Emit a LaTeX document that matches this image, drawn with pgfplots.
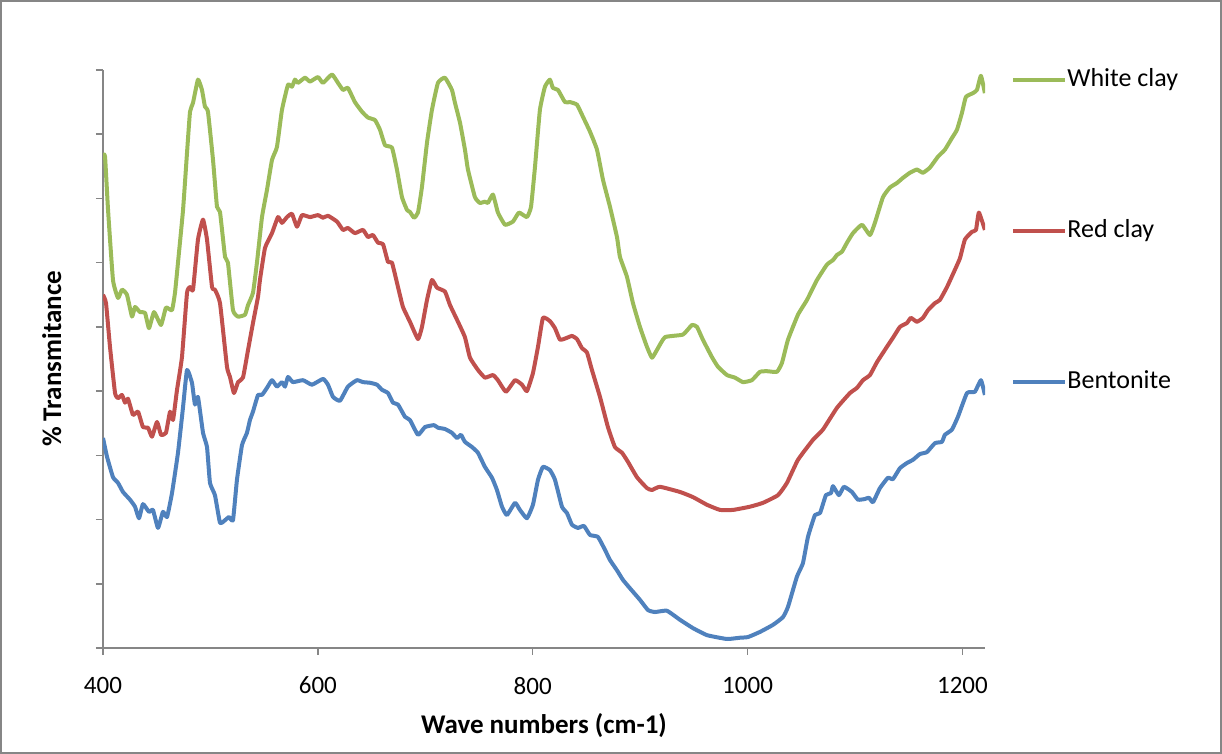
\documentclass[border=0pt]{standalone}
\usepackage{fontspec}
\setmainfont{Carlito}
\usepackage{pgfplots}
\pgfplotsset{compat=1.18}
\definecolor{cgreen}{HTML}{9BBB59}
\definecolor{cred}{HTML}{C0504D}
\definecolor{cblue}{HTML}{4F81BD}
\definecolor{axgray}{HTML}{868686}

\begin{document}
\begin{tikzpicture}
\useasboundingbox (0,0) rectangle (611pt,377pt);
\draw[axgray, line width=1pt] (0.5pt,0.5pt) rectangle (610.5pt,376.5pt);
\begin{axis}[
    at={(51.5pt,53pt)}, anchor=south west,
    scale only axis, width=441pt, height=289pt,
    xmin=400, xmax=1221, ymin=0, ymax=90,
    axis lines*=left,
    axis line style={axgray, line width=0.75pt},
    xtick={400,600,800,1000,1200},
    ytick={0,10,...,90}, yticklabels={},
    tick align=outside, major tick length=3.5pt,
    tick style={axgray, line width=0.75pt},
    ticklabel style={font=\fontsize{12.5}{14}\selectfont},
    xticklabel style={yshift=-7.5pt},
    /pgf/number format/assume math mode=true,
    /pgf/number format/1000 sep={},
    xlabel={Wave numbers (cm-1)},
    ylabel={\% Transmitance},
    label style={font=\bfseries\fontsize{13.5}{16}\selectfont},
    xlabel style={at={(axis description cs:0.5,-0.134)}, anchor=center},
    ylabel style={at={(axis description cs:-0.058,0.5)}, anchor=center},
    legend style={draw=none, fill=none, at={(1.0295,1.004)}, anchor=north west,
        inner sep=0pt, row sep=63.5pt, font=\fontsize{13}{15}\selectfont,
        nodes={inner sep=0pt, text height=9pt, text depth=3pt},
        /tikz/every even column/.append style={column sep=2.5pt}},
    legend image code/.code={\draw[#1] (0pt,0pt) -- (26pt,0pt);},
    legend cell align=left,
    every axis plot/.append style={line width=2pt, line join=round, smooth, tension=0.25},
]
% White clay
\addplot[cgreen] coordinates {
(400,76.8) (401.9,76.5) (404.7,68.2) (409.3,57.3) (414.0,54.5) (417.7,55.8)
(422.3,55.0) (427.0,51.6) (429.8,53.1) (434.4,52.3) (439.1,52.2) (442.8,49.8)
(447.5,52.3) (454.0,50.3) (458.6,53.0) (464.2,52.6) (467.0,55.3) (469.8,60.0)
(474.5,68.2) (478.2,77.1) (481.0,83.5) (483.8,84.9) (488.4,88.5) (492.1,86.9)
(494.9,84.3) (497.7,83.5) (502.4,76.0) (506.1,68.7) (508.9,67.9) (513.6,60.9)
(516.3,60.0) (521.0,52.6) (525.7,51.6) (532.2,51.9) (535.0,53.4) (539.6,55.3)
(543.3,60.0) (548.0,67.1) (552.6,71.3) (557.3,76.0) (561.9,78.0) (566.6,83.8)
(572.2,87.7) (575.9,87.4) (578.7,88.5) (581.5,88.0) (588.0,88.8) (592.7,88.2)
(600.1,88.9) (604.8,88.0) (613.1,89.3) (618.7,88.0) (623.4,86.9) (628.0,87.2)
(634.5,85.0) (641.1,83.5) (646.6,82.6) (653.2,82.2) (657.8,80.7) (662.5,78.3)
(669.0,77.9) (673.6,74.5) (678.3,70.2) (683.0,68.2) (685.7,67.9) (689.5,67.0)
(693.2,67.8) (696.9,71.8) (701.6,78.7) (706.2,83.8) (711.8,88.0) (718.3,88.8)
(724.8,86.9) (727.6,84.9) (732.3,81.8) (736.9,77.6) (739.7,74.5) (746.2,70.2)
(750.9,69.3) (755.5,69.5) (758.3,69.3) (763.0,70.6) (767.6,67.8) (774.2,65.9)
(781.6,66.4) (787.2,67.8) (794.6,67.1) (798.4,68.7) (802.1,74.9) (806.7,83.8)
(811.4,87.4) (816.0,88.5) (818.8,87.2) (823.5,86.9) (830.0,85.0) (834.7,85.0)
(841.2,84.6) (846.8,82.7) (853.3,80.4) (859.8,77.6) (865.4,72.9) (871.9,68.7)
(878.4,64.0) (881.2,60.9) (887.7,57.8) (893.3,53.7) (899.8,50.0) (906.3,46.9)
(911.0,45.2) (915.6,46.4) (923.1,48.4) (939.8,48.8) (948.2,50.3) (952.9,50.0)
(958.4,48.0) (966.8,45.3) (972.4,43.8) (980.8,42.5) (988.2,42.1) (995.7,41.4)
(1004.0,41.7) (1011.5,43.0) (1018.0,43.1) (1027.3,43.0) (1032.0,44.4) (1037.6,48.0)
(1046.9,51.9) (1055.3,54.2) (1064.6,57.3) (1073.9,59.7) (1079.5,60.4) (1083.2,61.2)
(1087.8,61.7) (1092.5,63.1) (1098.1,64.6) (1106.5,65.9) (1113.9,64.3) (1118.5,66.2)
(1126.0,70.2) (1132.5,71.7) (1139.0,72.4) (1144.6,73.2) (1151.1,74.0) (1157.6,74.5)
(1163.2,74.0) (1169.7,74.8) (1177.2,76.5) (1183.7,77.6) (1190.2,79.4) (1194.9,80.7)
(1199.5,83.3) (1203.2,85.8) (1209.8,86.4) (1213.5,86.9) (1217.2,89.1) (1220.9,86.4)
};
\addlegendentry{White clay}
% Red clay
\addplot[cred] coordinates {
(400,55.0) (402.8,53.7) (406.5,46.9) (411.2,39.7) (414.0,38.9) (417.7,39.4)
(420.5,38.2) (423.3,38.8) (427.9,36.3) (432.6,36.8) (437.2,34.4) (441.9,34.3)
(445.6,32.9) (450.3,35.2) (454.0,33.2) (458.6,33.5) (462.4,36.8) (465.2,35.5)
(468.9,40.2) (473.5,45.3) (478.2,55.3) (481.0,56.2) (483.8,55.8) (488.4,63.6)
(493.1,66.7) (496.8,63.6) (501.5,56.2) (504.2,55.8) (508.9,53.7) (515.4,43.8)
(518.2,42.2) (521.9,39.7) (525.7,41.4) (530.3,42.1) (535.0,46.4) (539.6,50.6)
(544.3,54.7) (546.1,57.3) (550.8,62.3) (557.3,64.6) (562.9,67.1) (566.6,66.2)
(571.3,67.1) (575.9,67.6) (580.6,65.6) (585.2,67.4) (592.7,67.1) (600.1,67.4)
(604.8,67.0) (609.4,67.3) (617.8,66.4) (623.4,65.1) (628.0,65.4) (634.5,64.6)
(642.0,65.1) (646.6,64.0) (651.3,64.3) (656.0,63.1) (660.6,62.9) (665.3,60.1)
(669.0,60.0) (674.6,56.2) (679.2,53.1) (685.7,50.8) (693.2,48.1) (696.9,50.0)
(701.6,54.2) (706.2,57.3) (710.9,56.1) (718.3,55.5) (723.0,53.4) (730.4,50.8)
(736.9,48.4) (741.6,45.2) (749.0,43.3) (755.5,42.1) (763.0,42.5) (767.6,41.7)
(775.1,39.9) (783.5,41.7) (790.0,41.0) (794.6,40.0) (800.2,42.8) (804.9,46.9)
(809.5,51.4) (816.0,50.9) (820.7,49.8) (825.4,48.0) (831.9,48.3) (836.5,48.6)
(841.2,48.1) (845.8,46.7) (850.5,46.0) (855.1,43.3) (862.6,39.1) (870.0,34.4)
(876.5,31.3) (883.1,30.4) (888.6,29.0) (897.0,26.6) (906.3,24.9) (911.0,24.6)
(918.4,25.1) (937.0,24.3) (949.1,23.5) (962.2,22.3) (974.3,21.5) (986.4,21.5)
(1002.2,22.0) (1014.3,22.6) (1028.3,23.8) (1036.6,25.7) (1046.9,29.3) (1060.8,32.4)
(1070.1,34.0) (1083.2,37.4) (1095.3,39.7) (1101.8,40.5) (1107.4,41.7) (1113.9,42.5)
(1120.4,44.5) (1129.7,46.9) (1135.3,48.3) (1141.8,50.0) (1148.3,50.6) (1152.0,51.4)
(1157.6,50.8) (1163.2,51.4) (1167.9,52.6) (1174.4,53.7) (1179.0,54.2) (1185.6,56.2)
(1193.0,58.9) (1197.7,60.7) (1202.3,63.6) (1208.8,64.8) (1212.6,65.1) (1215.3,67.8)
(1220.9,65.1)
};
\addlegendentry{Red clay}
% Bentonite
\addplot[cblue] coordinates {
(400,32.7) (403.7,29.8) (409.3,26.6) (414.0,25.7) (418.6,24.3) (425.1,23.1)
(429.8,22.0) (433.5,20.2) (437.2,22.4) (442.8,21.2) (446.5,21.5) (451.2,18.7)
(455.8,21.2) (459.6,20.4) (464.2,24.1) (469.8,30.4) (474.5,37.5) (478.2,43.3)
(482.8,41.3) (485.6,37.9) (488.4,39.1) (493.1,33.5) (496.8,31.3) (499.6,25.7)
(504.2,23.8) (508.9,19.5) (513.6,19.9) (517.3,20.4) (521.0,19.9) (524.7,26.2)
(529.4,31.6) (534.0,33.5) (536.8,35.5) (539.6,36.8) (544.3,39.4) (548.0,39.4)
(552.6,40.5) (557.3,41.7) (561.9,40.7) (566.6,41.4) (569.4,40.7) (572.2,42.2)
(576.8,41.4) (586.2,41.7) (594.5,41.0) (604.8,41.9) (609.4,41.0) (614.1,39.1)
(620.6,38.5) (628.0,40.7) (636.4,41.7) (642.0,41.4) (648.5,41.3) (655.0,41.0)
(659.7,40.2) (665.3,39.7) (669.9,38.2) (674.6,37.9) (681.1,36.0) (685.7,35.5)
(693.2,33.2) (699.7,34.4) (708.1,34.7) (711.8,34.3) (718.3,34.1) (724.8,33.5)
(729.5,32.7) (733.2,33.2) (736.9,32.1) (743.4,31.3) (749.0,30.4) (755.5,28.2)
(762.1,26.5) (766.7,24.6) (771.4,22.0) (776.0,20.7) (783.5,22.6) (788.1,21.5)
(794.6,20.2) (800.2,22.3) (804.9,26.2) (809.5,28.2) (816.0,27.7) (820.7,26.2)
(827.2,22.0) (831.9,21.0) (836.5,19.2) (842.1,18.7) (847.7,19.0) (853.3,17.6)
(860.7,17.3) (867.2,15.3) (871.9,13.7) (878.4,12.1) (884.0,10.6) (890.5,9.3)
(899.8,7.5) (907.3,5.9) (913.8,5.6) (924.9,5.8) (937.0,4.4) (949.1,3.1)
(962.2,2.0) (980.8,1.4) (992.9,1.6) (1000.3,1.7) (1011.5,2.5) (1023.6,3.6)
(1032.9,4.8) (1037.6,6.4) (1045.9,11.1) (1051.5,13.2) (1056.2,17.3) (1062.7,20.7)
(1067.4,21.0) (1072.9,23.8) (1077.6,24.1) (1079.5,25.2) (1085.0,23.8) (1089.7,25.1)
(1097.1,24.3) (1102.7,23.1) (1109.2,23.2) (1113.0,23.4) (1116.7,22.7) (1123.2,24.9)
(1130.6,26.5) (1135.3,26.3) (1141.8,28.0) (1148.3,28.8) (1153.9,29.3) (1160.4,30.2)
(1166.9,30.5) (1174.4,31.9) (1180.9,32.1) (1183.7,33.2) (1190.2,34.0) (1195.8,36.0)
(1204.2,39.7) (1211.6,39.9) (1217.2,41.7) (1220.9,39.4)
};
\addlegendentry{Bentonite}
\end{axis}
\end{tikzpicture}
\end{document}
